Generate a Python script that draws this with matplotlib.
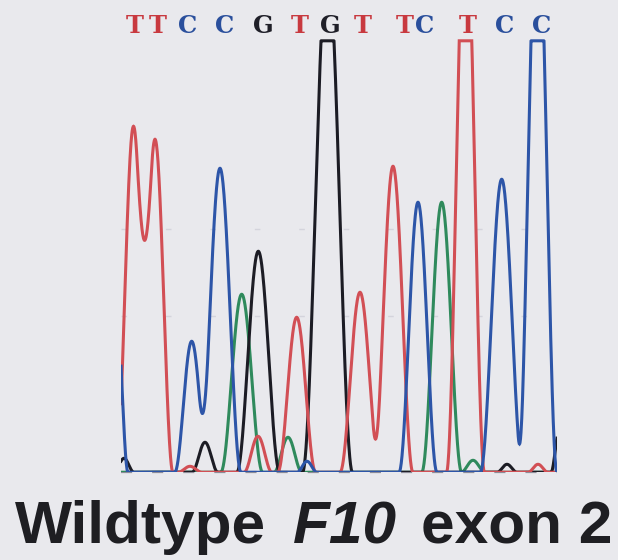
import matplotlib.pyplot as plt
import matplotlib.transforms as mtransforms
import numpy as np

# Called bases and the scan where each call sits
bases = list("TTCCGTGTTCTCC")
base_scans = [14, 37, 67, 104, 142, 179, 209, 242, 284, 304, 347, 384, 421]

# Peak tables per dye channel: scan position, height, half-width at the base
t_scans = [12.5, 34, 69, 137, 175.7, 239, 272, 344.5, 417]
t_heights = [346, 333, 6, 36, 155, 180, 306, 574, 8]
t_widths = [17.7, 18, 12, 14, 19, 20, 20, 19, 10]

c_scans = [-4, 70.7, 99, 186, 297, 380.7, 416.5]
c_heights = [150, 131, 304, 11, 270, 293, 575]
c_widths = [11, 17, 21, 10, 19, 21.4, 19.5]

a_scans = [120.7, 167, 320.7, 352]
a_heights = [178, 35, 270, 12]
a_widths = [21, 14, 20, 12]

g_scans = [3, 84, 137.3, 206.5, 386, 438]
g_heights = [14, 30, 221, 512, 8, 40]
g_widths = [10, 13, 21.5, 25, 10, 8]

N_SCANS = 436
SATURATION = 431.5
ZERO_SINK = 0.8  # dye zero sits just under the drawn baseline
HEADROOM = 10

BG = "#e9e9ed"
DYE_COLORS = {"A": "#2f8a5c", "C": "#2d55a8", "G": "#1c1c24", "T": "#d24f55"}
CALL_COLORS = {"C": "#2a4f9c", "G": "#1f1f28", "T": "#c8393f"}


def trace(scan, centers, heights, widths):
    signal = np.zeros_like(scan)
    for c, h, w in zip(centers, heights, widths):
        d = np.clip((scan - c) / w, -1, 1)
        signal += h * np.cos(np.pi * d / 2) ** 2
    # detector saturates, peaks come out flat-topped
    return np.minimum(signal, SATURATION)


fig = plt.figure(figsize=(6.18, 5.6), dpi=100, facecolor=BG)
ax = fig.add_axes([121 / 618, 88.5 / 560, 436 / 618, (SATURATION + HEADROOM) / 560])
ax.set_facecolor(BG)
ax.set_xlim(0, N_SCANS)
ax.set_ylim(0, SATURATION + HEADROOM)
ax.axis("off")

# faint reference levels and the dashed baseline
for level in (156, 243):
    ax.axhline(level, color="#d4d4dc", lw=1.0, dashes=(4, 28), zorder=0)
ax.axhline(0, color="#8c8c98", lw=1.6, dashes=(5, 9), zorder=0, clip_on=False)

scan = np.linspace(0, N_SCANS, 1745)
channels = [
    ("A", a_scans, a_heights, a_widths),
    ("G", g_scans, g_heights, g_widths),
    ("T", t_scans, t_heights, t_widths),
    ("C", c_scans, c_heights, c_widths),
]
for dye, centers, heights, widths in channels:
    ax.plot(scan, trace(scan, centers, heights, widths) - ZERO_SINK,
            color=DYE_COLORS[dye], lw=2.2, solid_joinstyle="miter", zorder=2)

# base calls along the top
call_tf = mtransforms.blended_transform_factory(ax.transData, fig.transFigure)
for b, s in zip(bases, base_scans):
    ax.text(s, 1 - 33 / 560, b, transform=call_tf, ha="center", va="baseline",
            fontsize=17.5, fontweight="bold", family="DejaVu Serif",
            color=CALL_COLORS[b], clip_on=False)

title_y = 1 - 543 / 560
title_kw = dict(fontsize=43.5, fontweight="bold", family="Liberation Sans",
                color="#1e1e22", va="baseline", ha="left")
fig.text(15 / 618, title_y, "Wildtype", **title_kw)
fig.text(293 / 618, title_y, "F10", style="italic", **title_kw)
fig.text(421 / 618, title_y, "exon 2", **title_kw)

fig.savefig("out.png", dpi=100, facecolor=BG)
